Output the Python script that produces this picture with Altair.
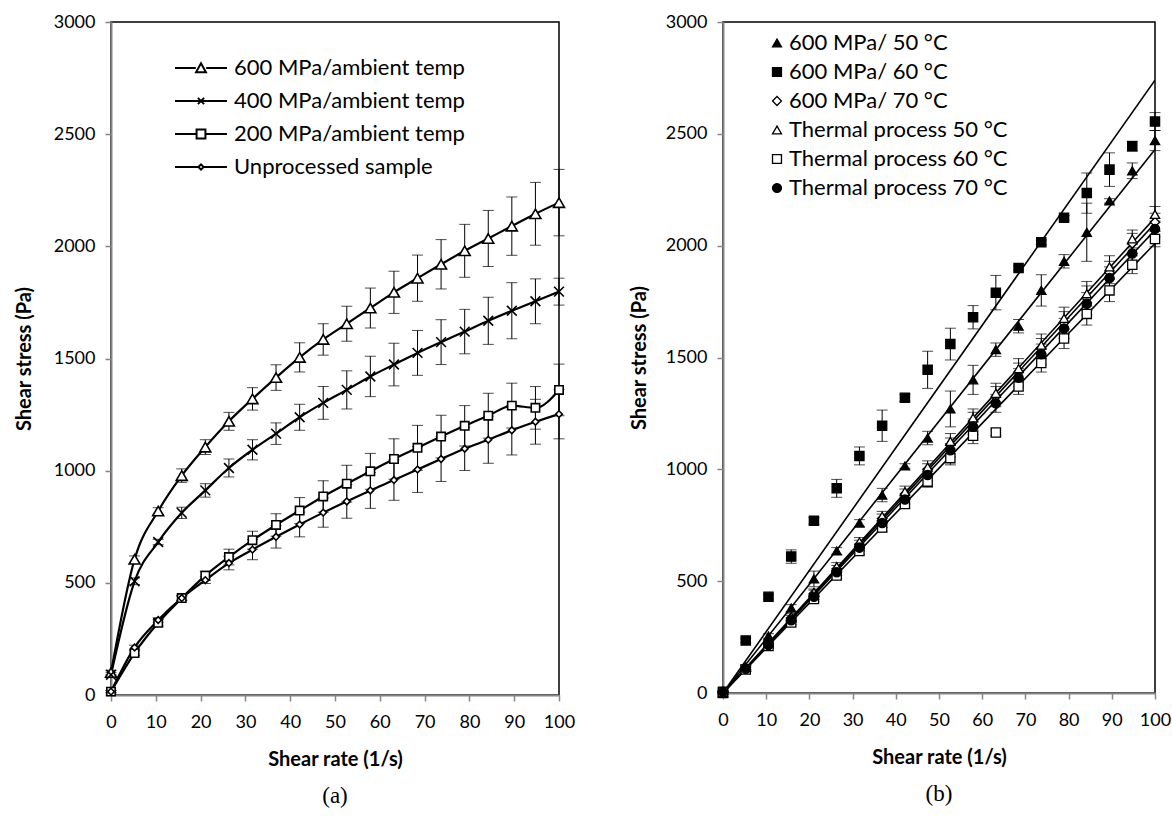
import altair as alt
import pandas as pd

# ---------------- data ----------------
shear_rate = [0, 5.26, 10.53, 15.79, 21.05, 26.32, 31.58, 36.84, 42.11, 47.37,
              52.63, 57.89, 63.16, 68.42, 73.68, 78.95, 84.21, 89.47, 94.74, 100]

# panel (a)
left_names = ["600 MPa/ambient temp", "400 MPa/ambient temp",
              "200 MPa/ambient temp", "Unprocessed sample"]
p600 = [100, 605, 820, 978, 1105, 1220, 1320, 1415, 1505, 1585, 1655, 1725, 1795, 1858, 1920, 1980, 2035, 2090, 2145, 2195]
p600_err = [10, 15, 15, 30, 33, 40, 50, 57, 65, 70, 78, 89, 94, 103, 110, 118, 125, 130, 140, 148]
p400 = [90, 507, 682, 812, 912, 1012, 1093, 1165, 1238, 1302, 1360, 1420, 1473, 1525, 1573, 1620, 1668, 1713, 1755, 1798]
p400_err = [10, 15, 12, 25, 30, 40, 45, 48, 58, 73, 85, 90, 95, 100, 100, 99, 105, 125, 100, 60]
p200 = [15, 187, 322, 432, 532, 615, 690, 758, 822, 885, 942, 997, 1052, 1102, 1152, 1200, 1245, 1290, 1280, 1360]
p200_err = [5, 10, 15, 10, 20, 35, 40, 50, 58, 70, 82, 80, 90, 100, 95, 90, 100, 100, 95, 115]
unproc = [15, 212, 334, 432, 512, 588, 648, 705, 760, 813, 863, 912, 958, 1005, 1052, 1098, 1138, 1180, 1218, 1252]
unproc_err = [5, 10, 10, 10, 15, 30, 45, 50, 55, 65, 75, 80, 90, 102, 100, 97, 105, 110, 100, 110]

# panel (b)
right_names = ["600 MPa/ 50 °C", "600 MPa/ 60 °C", "600 MPa/ 70 °C",
               "Thermal process 50 °C", "Thermal process 60 °C", "Thermal process 70 °C"]
hp50 = [0, 115, 255, 380, 510, 635, 760, 885, 1015, 1140, 1270, 1400, 1535, 1640, 1800, 1930, 2060, 2200, 2335, 2470]
hp50_err = [5, 10, 10, 15, 35, 15, 15, 30, 10, 30, 80, 65, 30, 30, 70, 30, 130, 10, 35, 45]
hp60 = [0, 235, 430, 610, 770, 915, 1060, 1195, 1320, 1445, 1560, 1680, 1790, 1900, 2015, 2125, 2235, 2340, 2445, 2555]
hp60_err = [5, 10, 10, 30, 15, 40, 40, 70, 15, 83, 71, 52, 77, 10, 10, 10, 90, 75, 22, 40]
hp70 = [5, 112, 220, 335, 445, 555, 665, 780, 890, 1000, 1110, 1215, 1325, 1435, 1540, 1655, 1765, 1880, 2010, 2105]
hp70_err = [3, 10, 12, 12, 15, 15, 18, 20, 22, 25, 30, 40, 45, 40, 45, 50, 55, 50, 45, 40]
th50 = [5, 115, 225, 340, 450, 565, 675, 790, 900, 1010, 1125, 1230, 1340, 1450, 1555, 1675, 1785, 1905, 2030, 2140]
th50_err = [3, 10, 12, 15, 15, 18, 20, 22, 25, 28, 35, 40, 45, 45, 50, 50, 55, 50, 40, 35]
th60 = [5, 105, 210, 315, 420, 525, 635, 740, 845, 945, 1050, 1150, 1165, 1370, 1475, 1585, 1695, 1800, 1915, 2030]
th60_err = [3, 8, 10, 10, 12, 15, 15, 20, 20, 25, 30, 35, 15, 35, 40, 45, 50, 50, 40, 35]
th70 = [5, 108, 215, 325, 430, 540, 650, 760, 865, 975, 1085, 1190, 1295, 1410, 1515, 1630, 1740, 1855, 1965, 2075]
th70_err = [3, 8, 10, 10, 12, 15, 15, 20, 20, 25, 30, 35, 40, 40, 45, 45, 50, 50, 40, 35]

# linear trend lines of panel (b): value at shear rate 0 and 100
trend_x = [0, 100]
trend_start = [0, 0, 0, 0, 0, 0]
trend_end = [2430, 2740, 2100, 2125, 2010, 2070]

# ---------------- tables ----------------
def long_table(names, values, errors):
    rows = []
    for n, v, e in zip(names, values, errors):
        for x, y, d in zip(shear_rate, v, e):
            rows.append({"series": n, "legend_series": n, "x": x, "y": y,
                         "lo": y - d, "hi": y + d})
    return pd.DataFrame(rows)

left_df = long_table(left_names, [p600, p400, p200, unproc],
                     [p600_err, p400_err, p200_err, unproc_err])
right_df = long_table(right_names, [hp50, hp60, hp70, th50, th60, th70],
                      [hp50_err, hp60_err, hp70_err, th50_err, th60_err, th70_err])
trend_rows = []
for n, s, e in zip(right_names, trend_start, trend_end):
    trend_rows.append({"series": n, "x": trend_x[0], "y": s})
    trend_rows.append({"series": n, "x": trend_x[1], "y": e})
trend_df = pd.DataFrame(trend_rows)

FONT = "Lato"
xs = alt.Scale(domain=[0, 100], nice=False)
ys = alt.Scale(domain=[0, 3000], nice=False)


def axes(y_title_pad):
    X = alt.X("x:Q", scale=xs, title="Shear rate (1/s)",
              axis=alt.Axis(values=list(range(0, 101, 10)), format="d", labelFlush=False))
    Y = alt.Y("y:Q", scale=ys, title="Shear stress (Pa)",
              axis=alt.Axis(values=list(range(0, 3001, 500)), format="d", labelFlush=False,
                            titlePadding=y_title_pad))
    return X, Y


Xp = alt.X("x:Q", scale=xs)
cross_path = "M-1,-1L1,1M-1,1L1,-1"


def error_layers(base):
    err = base.mark_rule(color="black", strokeWidth=1).encode(
        x=Xp, y=alt.Y("lo:Q", scale=ys), y2="hi:Q")
    hi = base.mark_tick(color="black", thickness=1, size=11, orient="horizontal").encode(
        x=Xp, y=alt.Y("hi:Q", scale=ys))
    lo = base.mark_tick(color="black", thickness=1, size=11, orient="horizontal").encode(
        x=Xp, y=alt.Y("lo:Q", scale=ys))
    return [err, hi, lo]


# ---------------- panel (a) ----------------
XL, YL = axes(19)
lbase = alt.Chart(left_df)
l_line = lbase.mark_line(color="black", strokeWidth=2.2, interpolate="monotone").encode(
    x=XL, y=YL, detail="series:N")
l_pts = lbase.mark_point(filled=True, fill="white", stroke="black", strokeWidth=1.6, opacity=1).encode(
    x=Xp, y=alt.Y("y:Q", scale=ys),
    shape=alt.Shape("series:N", legend=None,
                    scale=alt.Scale(domain=left_names,
                                    range=["triangle-up", cross_path, "square", "diamond"])),
    size=alt.Size("series:N", legend=None,
                  scale=alt.Scale(domain=left_names, range=[120, 45, 110, 40])),
)
# legend glyphs: a line with the series marker in its middle (unit = half of 26 px)
leg_paths = [
    "M-2,0H-0.4M0.4,0H2M-0.38,0.32L0,-0.36L0.38,0.32Z",
    "M-2,0H2M-0.24,-0.24L0.24,0.24M-0.24,0.24L0.24,-0.24",
    "M-2,0H-0.34M0.34,0H2M-0.34,-0.34H0.34V0.34H-0.34Z",
    "M-2,0H-0.2M0.2,0H2M-0.2,0L0,-0.2L0.2,0L0,0.2Z",
]
l_leg = alt.Chart(left_df[left_df["x"] == 0]).mark_point(opacity=0).encode(
    x=Xp, y=alt.Y("y:Q", scale=ys),
    shape=alt.Shape("legend_series:N",
                    scale=alt.Scale(domain=left_names, range=leg_paths),
                    legend=alt.Legend(orient="none", legendX=76, legendY=32, title=None,
                                      labelFont=FONT, labelFontSize=22, labelColor="black",
                                      symbolSize=676, symbolStrokeWidth=2,
                                      symbolStrokeColor="black", symbolFillColor="white",
                                      symbolOpacity=1, labelOffset=19, rowPadding=8,
                                      labelLimit=400)),
)
left = alt.layer(*error_layers(lbase), l_line, l_pts, l_leg).resolve_scale(
    shape="independent", size="independent").properties(
    width=448, height=673,
    title=alt.TitleParams("(a)", orient="bottom", font="Liberation Serif", fontSize=23,
                          fontWeight="normal", color="black", offset=16))

# ---------------- panel (b) ----------------
XR, YR = axes(16)
rbase = alt.Chart(right_df)
r_trend = alt.Chart(trend_df).mark_line(color="black", strokeWidth=1.6, clip=True).encode(
    x=XR, y=YR, detail="series:N")
r_legend_props = dict(orient="none", legendX=43, legendY=10, title=None,
                      labelFont=FONT, labelFontSize=22, labelColor="black",
                      symbolSize=80, symbolStrokeWidth=1.3,
                      symbolStrokeColor="black", symbolOpacity=1,
                      labelOffset=1, rowPadding=7, labelLimit=400)
r_pts = rbase.mark_point(filled=True, strokeWidth=1.3, opacity=1, size=85).encode(
    x=Xp, y=alt.Y("y:Q", scale=ys),
    shape=alt.Shape("series:N",
                    scale=alt.Scale(domain=right_names,
                                    range=["triangle-up", "square", "diamond",
                                           "triangle-up", "square", "circle"]),
                    legend=alt.Legend(**r_legend_props)),
    fill=alt.Fill("series:N",
                  scale=alt.Scale(domain=right_names,
                                  range=["black", "black", "white", "white", "white", "black"]),
                  legend=alt.Legend(**r_legend_props)),
    stroke=alt.Stroke("series:N",
                      scale=alt.Scale(domain=right_names, range=["black"] * 6),
                      legend=alt.Legend(**r_legend_props)),
)
right = alt.layer(*error_layers(rbase), r_trend, r_pts).properties(
    width=432, height=671,
    title=alt.TitleParams("(b)", orient="bottom", font="Liberation Serif", fontSize=23,
                          fontWeight="normal", color="black", offset=16))

chart = alt.hconcat(left, right, spacing=52).resolve_scale(
    shape="independent", fill="independent", size="independent", stroke="independent"
).resolve_legend(
    shape="independent", fill="independent", size="independent", stroke="independent"
).properties(
    padding={"left": 13, "top": 12, "right": 0, "bottom": 5},
    background="white",
).configure_view(
    stroke="black", strokeWidth=1.5
).configure_axis(
    grid=False, domainColor="#868686", domainWidth=2, tickColor="#868686", tickWidth=1.5,
    tickSize=6, labelFont=FONT, labelFontSize=18, labelColor="black", labelPadding=10,
    titleFont=FONT, titleFontSize=20, titleFontWeight="bold", titleColor="black",
    zindex=1,
).configure_axisX(titlePadding=18, labelPadding=12)

chart.save("out.html", embed_options={"renderer": "svg", "actions": False})
